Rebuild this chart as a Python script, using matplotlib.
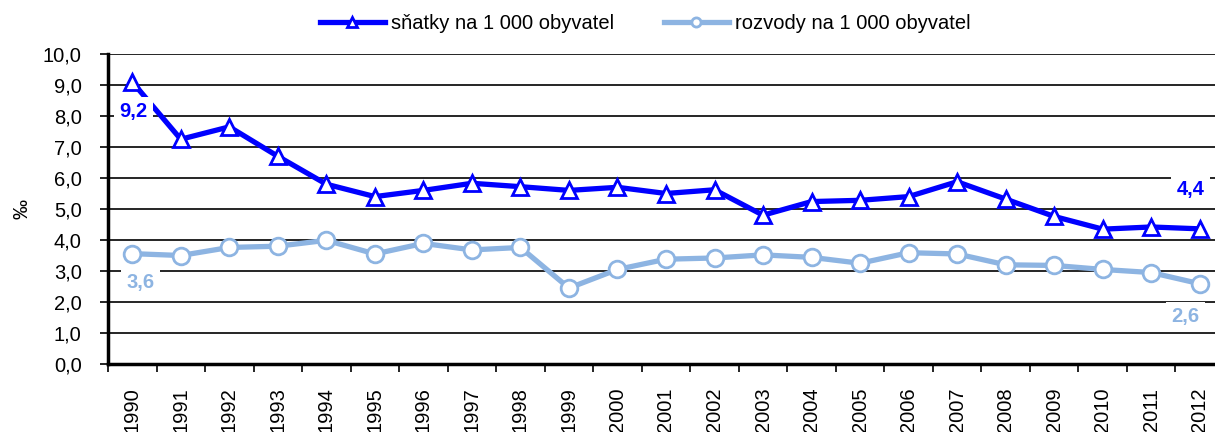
import matplotlib
matplotlib.use("Agg")
import matplotlib.pyplot as plt
import numpy as np

years = [str(y) for y in range(1990, 2013)]
snatky = [9.1, 7.25, 7.65, 6.7, 5.8, 5.4, 5.6, 5.83, 5.72, 5.6, 5.7, 5.5, 5.62, 4.8,
          5.24, 5.28, 5.4, 5.88, 5.32, 4.76, 4.35, 4.42, 4.36]
rozvody = [3.56, 3.5, 3.76, 3.8, 3.99, 3.55, 3.89, 3.68, 3.76, 2.45, 3.05, 3.38, 3.42, 3.52,
           3.44, 3.25, 3.59, 3.55, 3.2, 3.18, 3.05, 2.95, 2.59]
label_snatky = "sňatky na 1 000 obyvatel"
label_rozvody = "rozvody na 1 000 obyvatel"
end_labels = {"snatky": ["9,2", "4,4"], "rozvody": ["3,6", "2,6"]}
yticks = [0, 1, 2, 3, 4, 5, 6, 7, 8, 9, 10]

plt.rcParams['font.family'] = ['Liberation Sans', 'DejaVu Sans']

C1 = '#0000FF'
C2 = '#8DB4E2'
FS = 14.5

fig = plt.figure(figsize=(12.15, 4.32), dpi=100)
ax = fig.add_axes([108/1215, 1-364/432, (1224-108)/1215, (364-54)/432])

x = np.arange(len(years))
ax.plot(x, snatky, color=C1, lw=3.8, marker='^', ms=12, mfc='white', mec=C1, mew=2,
        label=label_snatky, zorder=4, clip_on=False)
ax.plot(x, rozvody, color=C2, lw=3.8, marker='o', ms=12, mfc='white', mec=C2, mew=2,
        label=label_rozvody, zorder=3, clip_on=False)

ax.set_xlim(-0.5, len(years) - 0.5)
ax.set_ylim(0, 10)
ax.set_yticks(yticks)
ax.set_yticklabels([f"{v:.1f}".replace('.', ',') for v in yticks], fontsize=FS)
ax.set_xticks(x)
ax.set_xticklabels(years, rotation=90, fontsize=FS)
ax.set_xticks(np.arange(-0.5, len(years)), minor=True)
ax.tick_params(axis='x', which='major', length=0, pad=17)
ax.tick_params(axis='x', which='minor', length=6, width=1.2, direction='out')
ax.tick_params(axis='y', length=6, width=1.2, direction='out', pad=13)
ax.yaxis.grid(True, color='black', lw=1.2)
ax.set_axisbelow(True)
for s in ['top', 'right']:
    ax.spines[s].set_visible(False)
for s in ['left', 'bottom']:
    ax.spines[s].set_linewidth(2.5)

ax.set_ylabel('‰', fontsize=FS, labelpad=8)

bbox = dict(facecolor='white', edgecolor='none', pad=4)
def lab(txt, xi, yi, dx, dy, c):
    ax.annotate(txt, (xi, yi), xytext=(dx, dy), textcoords='offset pixels',
                ha='center', va='center', color=c, fontsize=FS, fontweight='bold',
                bbox=bbox, zorder=5)

lab(end_labels["snatky"][0], x[0], snatky[0], 1, -30, C1)
lab(end_labels["rozvody"][0], x[0], rozvody[0], 8, -29, C2)
lab(end_labels["snatky"][1], x[-1], snatky[-1], -9, 39, C1)
lab(end_labels["rozvody"][1], x[-1], rozvody[-1], -14, -33, C2)

fig.legend(loc='upper center', bbox_to_anchor=(0.531, 1.01), ncol=2, frameon=False,
           fontsize=FS, handlelength=3.2, handletextpad=0.3, columnspacing=2.5,
           markerscale=0.55)

fig.savefig('out.png', dpi=100)
